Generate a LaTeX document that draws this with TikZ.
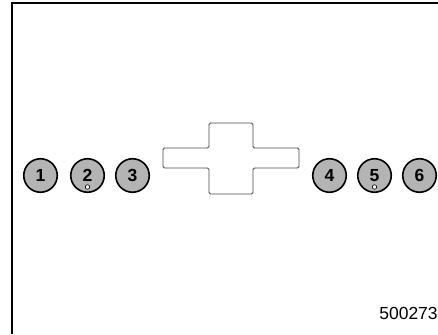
\documentclass[tikz,border=0pt]{standalone}
\usepackage{fontspec}
\setmainfont{Liberation Sans}
\usepackage{tikz}
\definecolor{circgray}{RGB}{180,180,180}
\definecolor{crossgray}{RGB}{70,70,70}
\newcommand{\corCirc}{circgray}
\newcommand{\corCross}{crossgray}

\begin{document}
\begin{tikzpicture}[x=1pt, y=-1pt,
    circnum/.style={circle, draw, line width=1.6pt, fill=\corCirc, minimum size=33.5pt,
      inner sep=0pt, font=\bfseries\fontsize{17.5}{17.5}\selectfont},
    holedot/.style={circle, draw, line width=0.6pt, fill=white, minimum size=4.5pt, inner sep=0pt}]
        \useasboundingbox (0,0) rectangle (438,334);

          % frame
        \draw[line width=2pt] (438,3) -- (12,3) -- (12,334);

          % plug left side
        \node[circnum] (c1) at (40.5,175.5) {1};
        \node[circnum] (c2) at (87.5,175.5) {2};
        \node[circnum] (c3) at (132.5,175.5) {3};

          % plug right side
        \node[circnum] (c4) at (329.5,175.5) {4};
        \node[circnum] (c5) at (374.5,175.5) {5};
        \node[circnum] (c6) at (419.5,175.5) {6};

          % small holes
        \node[holedot] (h2) at (87.5,187) {};
        \node[holedot] (h5) at (374.5,187) {};

          % cross
        \draw[line width=0.9pt, \corCross, rounded corners=1.5pt]
          (163,148) -- (209,148) -- (209,123) -- (253,123) -- (253,148) -- (299,148)
          -- (299,168) -- (253,168) -- (253,194) -- (209,194) -- (209,168) -- (163,168) -- cycle;

          % figure number
        \node[font=\fontsize{17.5}{17.5}\selectfont, inner sep=0pt] (fig) at (408.5,313.5) {500273};
    \end{tikzpicture}
\end{document}
